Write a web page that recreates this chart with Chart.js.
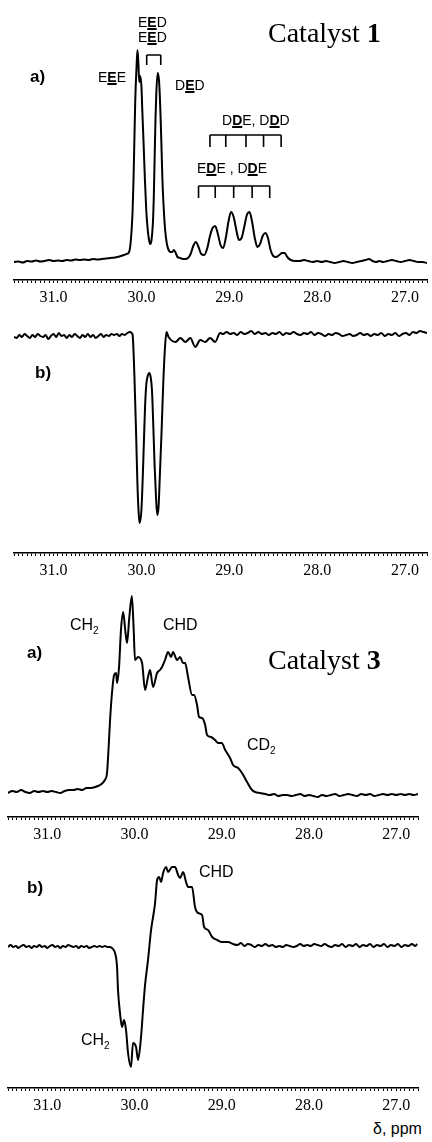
<!DOCTYPE html>
<html><head><meta charset="utf-8">
<script src="https://cdn.jsdelivr.net/npm/chart.js@4.4.1/dist/chart.umd.min.js"></script>
<style>
body{margin:0;background:#fff;}
#wrap{position:relative;width:432px;height:1142px;overflow:hidden;background:#fff;}
canvas{position:absolute;left:0;}
.t{position:absolute;font-family:"Liberation Sans",Arial,sans-serif;color:#000;white-space:nowrap;line-height:1;}
.t u{text-decoration-thickness:2px;text-underline-offset:1px;}
.s14{font-size:14px;}
.s16{font-size:16px;}
.lab{font-size:17px;font-weight:bold;}
.cat{font-family:"Liberation Serif","Times New Roman",serif;font-size:28px;}
</style></head><body><div id="wrap">
<canvas id="c1" width="432" height="310" style="top:0px"></canvas>
<canvas id="c2" width="432" height="273" style="top:310px"></canvas>
<canvas id="c3" width="432" height="262" style="top:585px"></canvas>
<canvas id="c4" width="432" height="268" style="top:850px"></canvas>

<div class="t s14" style="left:138px;top:15px">E<u><b>E</b></u>D</div>
<div class="t s14" style="left:138px;top:30px">E<u><b>E</b></u>D</div>
<div class="t s14" style="left:98px;top:70px">E<u><b>E</b></u>E</div>
<div class="t s14" style="left:175px;top:78px">D<u><b>E</b></u>D</div>
<div class="t s14" style="left:222px;top:113px">D<u><b>D</b></u>E, D<u><b>D</b></u>D</div>
<div class="t s14" style="left:197px;top:161px">E<u><b>D</b></u>E , D<u><b>D</b></u>E</div>
<div class="t lab" style="left:30px;top:68px">a)</div>
<div class="t cat" style="left:268px;top:19px">Catalyst <b>1</b></div>
<div class="t lab" style="left:35px;top:364px">b)</div>

<div class="t s16" style="left:70px;top:617px">CH<sub style="font-size:10px">2</sub></div>
<div class="t s16" style="left:163px;top:617px">CHD</div>
<div class="t lab" style="left:27px;top:644px">a)</div>
<div class="t cat" style="left:268px;top:646px">Catalyst <b>3</b></div>
<div class="t s16" style="left:247px;top:737px">CD<sub style="font-size:10px">2</sub></div>

<div class="t lab" style="left:27px;top:879px">b)</div>
<div class="t s16" style="left:199px;top:864px">CHD</div>
<div class="t s16" style="left:81px;top:1032px">CH<sub style="font-size:10px">2</sub></div>
<div class="t s16" style="left:373px;top:1121px">&delta;, ppm</div>
</div>
<script>
// ---- axis range (ppm) ----
const ppmLeft = 31.45;
const ppmRight = 26.75;
const tickStep = 0.05;

// ---- Catalyst 1, spectrum a) ----
const c1aPpm = [31.45,31.40,31.35,31.30,31.25,31.20,31.15,31.10,31.05,31.00,30.95,30.90,30.85,30.80,30.75,30.70,30.65,30.60,30.55,30.50,30.45,30.40,30.35,30.30,30.25,30.20,30.17,
 30.14,30.12,30.10,30.09,30.08,30.07,30.055,30.045,30.035,30.025,30.015,30.00,29.99,29.975,29.96,29.945,29.93,29.915,29.90,29.885,29.87,29.86,29.85,29.84,29.83,29.815,29.80,29.79,29.78,29.77,29.76,29.745,29.73,29.71,29.69,29.67,29.65,29.63,29.61,29.59,29.56,29.53,29.50,
 29.47,29.44,29.41,29.38,29.35,29.32,29.285,29.25,29.22,29.19,29.16,29.13,29.10,29.07,29.04,29.01,28.98,28.95,28.92,28.89,28.86,28.83,28.80,28.77,28.74,28.71,28.68,28.65,28.62,28.59,28.56,28.53,28.50,28.47,28.43,28.40,28.37,28.34,28.30,28.25,
 28.20,28.15,28.10,28.05,28.00,27.95,27.90,27.85,27.80,27.75,27.70,27.65,27.60,27.55,27.50,27.45,27.41,27.37,27.33,27.29,27.25,27.20,27.15,27.10,27.05,27.00,26.95,26.90,26.85,26.80,26.75];
const c1aInt = [0,0.5,-0.5,1,0.5,1.5,0.5,1,2,1,1.5,1,2,1.5,2.5,2,2.5,2,3,2.5,3,3.5,4,4.5,5.5,7,8,
 10,22,52,82,122,162,196,212,200,180,186,176,152,118,82,52,34,23,18,22,38,62,102,142,170,189,182,165,140,110,80,52,32,18,12,10,10,12,9,5,4,3,3,
 4,8,16,20,15,8,7,14,26,34,36,28,17,14,24,40,50,45,32,22,24,35,47,50,40,24,15,18,26,29,24,12,6,5,7,9,9,5,2,1,
 1,2,1,0,1,0,1,0,-1,0,1,0,-1,0,1,2,3,1,0,1,0,1,2,1,0,1,2,1,0,0,-1];

// ---- Catalyst 1, spectrum b) ----
const c1bPpm = [31.45,31.42,31.39,31.36,31.33,31.30,31.27,31.24,31.21,31.18,31.15,31.12,31.09,31.06,31.03,31.00,30.97,30.94,30.91,30.88,30.85,30.82,30.79,30.76,30.73,30.70,30.67,30.64,30.61,30.58,30.55,30.52,30.49,30.46,30.43,30.40,30.37,30.34,30.31,30.28,30.25,30.22,30.19,30.16,30.13,30.11,
 30.10,30.08,30.06,30.045,30.03,30.02,30.00,29.98,29.96,29.945,29.925,29.91,29.895,29.88,29.865,29.85,29.835,29.82,29.805,29.79,29.77,29.75,29.73,29.715,
 29.691,29.612,29.556,29.50,29.443,29.387,29.33,29.274,29.218,29.161,29.105,
 29.07,29.03,28.99,28.95,28.91,28.87,28.83,28.79,28.75,28.71,28.67,28.63,28.59,28.55,28.51,28.47,28.43,28.39,28.35,28.31,28.27,28.23,28.19,28.15,28.11,28.07,28.03,27.99,27.95,27.91,27.87,27.83,27.79,27.75,27.71,27.67,27.63,27.59,27.55,27.51,27.47,27.43,27.39,27.35,27.31,27.27,27.23,27.19,27.15,27.11,27.07,27.03,26.99,26.95,26.91,26.87,26.83,26.79,26.75];
const c1bInt = [-2,-3,0,-2,1,-1,-3,0,-2,1,-1,-2,0,-4,-1,1,-2,2,-1,0,-3,0,-2,1,-1,-3,0,-2,1,-2,0,-3,-1,1,-2,0,-1,1,0,1,-1,1,0,2,3,2,
 0,-40,-100,-150,-180,-188,-175,-130,-75,-50,-40,-38,-42,-55,-90,-130,-160,-180,-172,-140,-95,-45,-10,3,
 -2,-7,-3,-7,-3,-12,-5,-7,-3,-7,2,
 1,3,1,2,0,3,1,2,4,1,3,1,2,0,2,1,3,0,2,1,3,1,0,2,1,3,0,2,1,-1,1,0,2,1,-1,0,1,-1,0,2,0,1,-1,1,0,2,-1,1,0,2,-1,1,2,0,3,2,4,3,2];

// ---- Catalyst 3, spectrum a) ----
const c3aPpm = [31.45,31.40,31.35,31.30,31.25,31.20,31.15,31.10,31.05,31.00,30.95,30.90,30.85,30.80,30.75,30.70,30.65,30.60,30.55,30.50,30.45,30.42,
 30.395,30.34,30.315,30.30,30.28,30.257,30.234,30.211,30.20,30.177,30.155,30.13,30.105,30.085,30.06,30.03,30.01,29.994,29.959,29.913,29.879,29.845,29.822,29.787,29.741,29.707,29.684,29.65,29.615,29.58,29.558,29.512,29.477,29.443,29.42,29.386,29.34,29.317,29.283,29.26,29.225,29.19,29.168,29.122,29.076,29.04,29.00,28.96,28.904,28.87,28.812,28.767,28.71,28.652,28.617,28.56,
 28.50,28.45,28.40,28.35,28.30,28.25,28.20,28.15,28.10,28.05,28.00,27.95,27.90,27.85,27.80,27.75,27.70,27.65,27.60,27.55,27.50,27.45,27.40,27.35,27.30,27.25,27.20,27.15,27.10,27.05,27.00,26.95,26.90,26.85,26.80,26.75];
const c3aInt = [0,2,1,3,1,0,2,1,2,1,2,1,0,2,3,3,4,3,5,5,6,7,
 8,13,20,40,73,101,118,120,110,126,163,181,162,150,175,197,165,133,136,130,103,116,123,106,120,123,126,133,141,136,141,133,136,130,130,116,98,98,88,76,75,68,58,56,53,50,50,43,35,28,25,20,11,3,1,0,
 -1,-2,-1,-3,-2,-2,-3,-2,-1,-3,-2,-3,-4,-2,-3,-2,-1,-3,-2,-1,-2,-3,-1,-2,-1,-3,-2,-1,-2,-1,-2,-1,-2,-1,-2,-1];

// ---- Catalyst 3, spectrum b) ----
const c3bPpm = [31.45,31.42,31.39,31.36,31.33,31.30,31.27,31.24,31.21,31.18,31.15,31.12,31.09,31.06,31.03,31.00,30.97,30.94,30.91,30.88,30.85,30.82,30.79,30.76,30.73,30.70,30.67,30.64,30.61,30.58,30.55,30.52,30.49,30.46,30.43,30.40,30.37,30.34,30.31,30.28,30.26,
 30.246,30.223,30.20,30.189,30.166,30.143,30.12,30.097,30.074,30.04,30.017,29.982,29.959,29.925,29.902,29.879,29.845,29.81,29.787,29.764,29.741,29.718,29.695,29.672,29.638,29.615,29.569,29.535,29.50,29.477,29.443,29.409,29.386,29.34,29.306,29.271,29.225,29.202,29.157,29.11,29.053,28.996,28.927,28.87,
 28.82,28.78,28.74,28.70,28.66,28.62,28.58,28.54,28.50,28.46,28.42,28.38,28.34,28.30,28.26,28.22,28.18,28.14,28.10,28.06,28.02,27.98,27.94,27.90,27.86,27.82,27.78,27.74,27.70,27.66,27.62,27.58,27.54,27.50,27.46,27.42,27.38,27.34,27.30,27.26,27.22,27.18,27.14,27.10,27.06,27.02,26.98,26.94,26.90,26.86,26.82,26.78,26.76];
const c3bInt = [0,2,0,1,-1,1,2,0,1,-1,1,0,2,0,1,-1,1,2,0,1,-1,1,0,2,1,0,1,-1,1,0,1,-1,0,1,0,1,0,1,0,0,-1,
 -2,-6,-20,-43,-66,-80,-73,-83,-106,-120,-96,-100,-113,-90,-63,-38,-13,17,30,44,67,70,65,74,80,75,80,80,72,69,75,65,60,60,40,34,32,20,17,10,7,5,5,3,
 2,4,1,3,2,0,2,1,3,1,2,0,1,0,2,1,0,1,3,1,2,1,3,2,1,3,1,0,2,1,3,0,2,1,3,0,2,1,3,0,2,1,3,0,2,1,3,0,2,1,3,1,3];

// ---- assignment brackets (ppm) ----
const bracketEED = [29.94, 29.78];
const bracketDDD = [29.22, 29.04, 28.81, 28.61, 28.41];
const bracketEDE = [29.35, 29.16, 28.95, 28.74, 28.54];

const tickLabels = ['31.0','30.0','29.0','28.0','27.0'];

function pts(p, v){ return p.map((x,i)=>({x:x, y:v[i]})); }

function bracketPlugin(list){
  return {
    id:'brackets',
    afterDatasetsDraw(chart){
      const ctx = chart.ctx, xs = chart.scales.x, ys = chart.scales.y;
      ctx.save();
      ctx.strokeStyle = '#000';
      ctx.lineWidth = 1.6;
      list.forEach(b=>{
        const top = ys.getPixelForValue(b.top), bot = ys.getPixelForValue(b.bottom);
        const px = b.ppm.map(p=>xs.getPixelForValue(p));
        ctx.beginPath();
        ctx.moveTo(Math.min(...px), top);
        ctx.lineTo(Math.max(...px), top);
        px.forEach(x=>{ ctx.moveTo(x, top); ctx.lineTo(x, bot); });
        ctx.stroke();
      });
      ctx.restore();
    }
  };
}

function make(id, ppm, inten, yMin, yMax, padL, padR, plugins){
  return new Chart(document.getElementById(id), {
    type:'line',
    data:{ datasets:[{ data:pts(ppm, inten), borderColor:'#000', borderWidth:2, pointRadius:0, cubicInterpolationMode:'monotone', fill:false }] },
    options:{
      responsive:false, animation:false, devicePixelRatio:1,
      layout:{ padding:{ left:padL, right:padR, top:0, bottom:0 } },
      plugins:{ legend:{display:false}, tooltip:{enabled:false} },
      scales:{
        x:{ type:'linear', reverse:true, min:ppmRight, max:ppmLeft,
            border:{ display:true, color:'#000', width:1.5 },
            grid:{ drawOnChartArea:false, drawTicks:true, tickLength:3, color:'#000', lineWidth:1 },
            ticks:{ stepSize:tickStep, autoSkip:false, maxRotation:0, minRotation:0, color:'#000', padding:5,
                    font:{ family:'"Liberation Serif", "Times New Roman", serif', size:16 },
                    callback:(v)=>{ const s = Number(v).toFixed(1); return (Math.abs(v-Math.round(v))<1e-6 && tickLabels.includes(s)) ? s : ''; } },
            afterFit:(s)=>{ s.height = 30; } },
        y:{ display:false, min:yMin, max:yMax }
      }
    },
    plugins: plugins || []
  });
}

make('c1', c1aPpm, c1aInt, -18, 262, 14, 1, [bracketPlugin([
  {ppm:bracketEED, top:207, bottom:197},
  {ppm:bracketDDD, top:127, bottom:115},
  {ppm:bracketEDE, top:76, bottom:64}
])]);
make('c2', c1bPpm, c1bInt, -218, 25, 14, 1);
make('c3', c3aPpm, c3aInt, -24, 208, 8, 14);
make('c4', c3bPpm, c3bInt, -141, 97, 8, 14);
</script>
</body></html>
